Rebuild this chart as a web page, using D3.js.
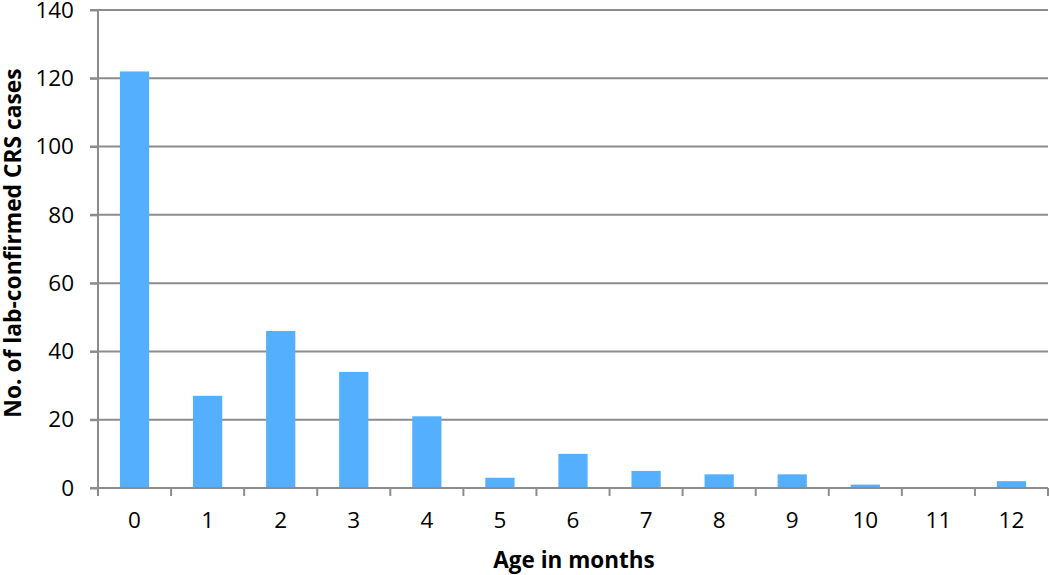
<!DOCTYPE html>
<html><head><meta charset="utf-8">
<script src="https://cdn.jsdelivr.net/npm/d3@7"></script>
<style>body{margin:0;background:#fff}svg text{font-family:"Open Sans","Liberation Sans",sans-serif;fill:#000}</style>
</head><body><svg id="c" width="1050" height="575"></svg>
<script>
const categories = ["0","1","2","3","4","5","6","7","8","9","10","11","12"];
const cases = [122,27,46,34,21,3,10,5,4,4,1,0,2];
const yTicks = [0,20,40,60,80,100,120,140];

const svg = d3.select("#c");
const m = {l:98, r:1048, t:10, b:488};
const x = d3.scaleBand().domain(categories).range([m.l, m.r]).paddingInner(0.6).paddingOuter(0.3);
const xb = d3.scaleBand().domain(categories).range([m.l, m.r]);
const y = d3.scaleLinear().domain([0,140]).range([m.b, m.t]);

// gridlines
svg.append("g").selectAll("line").data(yTicks.filter(d=>d>0)).join("line")
  .attr("x1", m.l-8).attr("x2", m.r).attr("y1", d=>y(d)).attr("y2", d=>y(d))
  .attr("stroke", "#8c8c8c").attr("stroke-width", 2);

// bars
svg.append("g").selectAll("rect").data(cases).join("rect")
  .attr("x", (d,i)=>x(categories[i])).attr("width", x.bandwidth())
  .attr("y", d=>y(d)).attr("height", d=>y(0)-y(d))
  .attr("fill", "#55afff");

// y axis
const ya = svg.append("g").attr("transform", `translate(${m.l},0)`)
  .call(d3.axisLeft(y).tickValues(yTicks).tickSize(8).tickPadding(16));
ya.select(".domain").attr("stroke","#8c8c8c").attr("stroke-width",2).attr("d", `M-8,${m.t}H0V${m.b}H-8`);
ya.selectAll(".tick line").attr("stroke","#8c8c8c").attr("stroke-width",2);
ya.selectAll(".tick text").attr("font-size", 22.5).attr("font-family","Open Sans, Liberation Sans, sans-serif");

// x axis
const xa = svg.append("g").attr("transform", `translate(0,${m.b})`)
  .call(d3.axisBottom(xb).tickSize(0).tickPadding(24));
xa.select(".domain").attr("stroke","#8c8c8c").attr("stroke-width",2).attr("d", `M${m.l},0H${m.r}`);
xa.selectAll(".tick text").attr("font-size", 22.5).attr("font-family","Open Sans, Liberation Sans, sans-serif");
// category boundary ticks
svg.append("g").selectAll("line").data(categories.concat(["end"])).join("line")
  .attr("x1", (d,i)=> i<categories.length ? xb(d) : m.r)
  .attr("x2", (d,i)=> i<categories.length ? xb(d) : m.r)
  .attr("y1", m.b).attr("y2", m.b+8)
  .attr("stroke","#8c8c8c").attr("stroke-width",2);

// titles
svg.append("text").attr("x", 574).attr("y", 568).attr("text-anchor","middle")
  .attr("font-size", 22.5).attr("font-weight","bold").text("Age in months");
svg.append("text").attr("transform","translate(20.5,243) rotate(-90)").attr("text-anchor","middle")
  .attr("font-size", 22.8).attr("font-weight","bold").text("No. of lab-confirmed CRS cases");
</script></body></html>
